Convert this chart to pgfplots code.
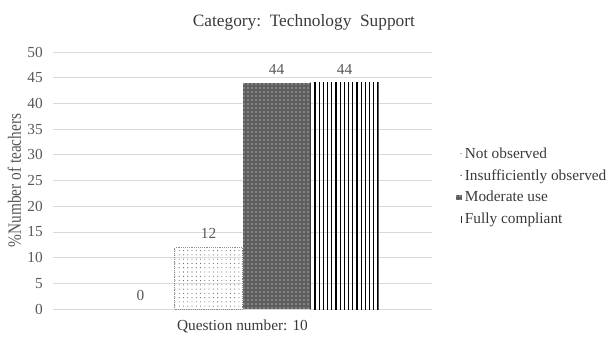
\documentclass[border=0pt]{standalone}
\usepackage{pgfplots}
\pgfplotsset{compat=1.18}
\usepackage{fontspec}
\setmainfont{Liberation Serif}
\usetikzlibrary{patterns.meta}
\definecolor{txt}{HTML}{595959}
\definecolor{darktxt}{HTML}{3A3A3A}
\definecolor{gridc}{HTML}{D9D9D9}
\definecolor{dense}{HTML}{5E5E5E}
\definecolor{dotc}{HTML}{5A5A5A}

\tikzset{
  sparsedots/.style={pattern={Dots[distance=3.2pt,radius=0.4pt]}, pattern color=dotc},
  densefill/.style={fill=dense, postaction={pattern={Dots[distance=3pt,radius=0.45pt]}, pattern color=white}},
  vlines/.style={pattern={Lines[angle=90,distance=3.15pt,line width=0.9pt]}, pattern color=black},
}

\begin{document}
\begin{tikzpicture}
\useasboundingbox (-41.25pt,-20.25pt) rectangle (416.25pt,231.75pt);
\begin{axis}[
  at={(0,0)}, anchor=south west, scale only axis,
  width=284.25pt, height=192.75pt,
  xshift=-1.5pt,
  ymin=0, ymax=50, ytick={0,5,...,50},
  xmin=-1, xmax=1, xtick={0}, xticklabels={Question number: 10},
  ybar=0pt, bar width=51pt,
  axis line style={draw=none}, major tick length=0pt,
  ymajorgrids, grid style={gridc, line width=0.6pt},
  tick label style={font=\fontsize{11.5}{13}\selectfont, text=txt},
  /pgf/number format/assume math mode=true,
  yticklabel style={anchor=east, inner sep=0pt, xshift=-7.5pt},
  xticklabel style={anchor=base, inner sep=0pt, yshift=-16pt, text=darktxt},
  ylabel={\%Number of teachers},
  ylabel style={at={(axis description cs:-0.102,0.5)}, anchor=center, yscale=1.22,
    font=\fontsize{11.5}{13}\selectfont, text=txt},
  title={Category:\ \ Technology\ \ Support},
  title style={at={(axis description cs:0.662,1.085)}, anchor=center,
    font=\fontsize{13}{15}\selectfont, text=darktxt},
  nodes near coords,
  nodes near coords style={font=\fontsize{11.5}{13}\selectfont, text=txt, anchor=south, yshift=3pt},
  legend style={at={(axis description cs:1.062,0.64)}, anchor=north west,
    draw=none, fill=none, font=\fontsize{11.5}{13.5}\selectfont, text=darktxt,
    row sep=2.9pt, inner sep=0pt},
  legend cell align=left,
]
\addplot[draw=none, fill=none,
  legend image code/.code={\fill[dotc] (0.2cm,0.05ex) circle (0.45pt);}]
  coordinates {(0,0)};
\addlegendentry{Not observed}
\addplot[sparsedots, draw=black!45, densely dotted, line width=0.4pt,
  legend image code/.code={\fill[dotc] (0.2cm,0.05ex) circle (0.45pt);}]
  coordinates {(0,12)};
\addlegendentry{Insufficiently observed}
\addplot[densefill, draw=none,
  legend image code/.code={\fill[dense] (0.06cm,-2pt) rectangle (0.23cm,2pt);}]
  coordinates {(0,44)};
\addlegendentry{Moderate use}
\addplot[vlines, draw=none,
  legend image code/.code={\fill[black!80] (0.19cm,-3pt) rectangle (0.225cm,2.5pt);}]
  coordinates {(0,44)};
\addlegendentry{Fully compliant}
\end{axis}
\end{tikzpicture}
\end{document}
